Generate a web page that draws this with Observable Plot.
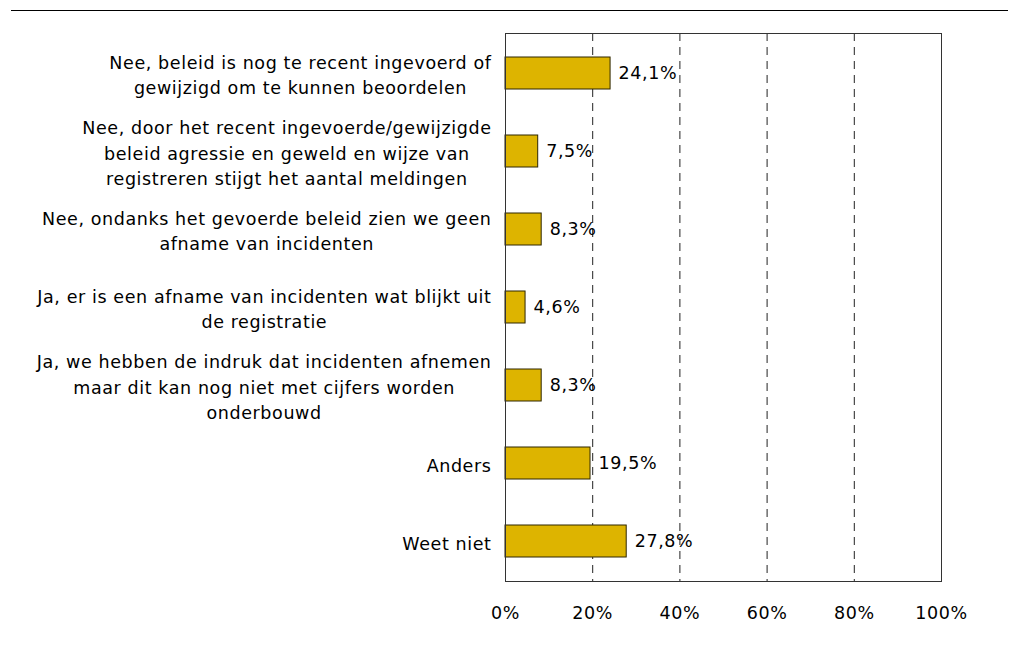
<!DOCTYPE html>
<html><head><meta charset="utf-8">
<script src="https://cdn.jsdelivr.net/npm/d3@7"></script>
<script src="https://cdn.jsdelivr.net/npm/@observablehq/plot@0.6"></script>
<style>
body{margin:0;background:#fff;}
#wrap{position:relative;width:1011px;height:648px;}
#topline{position:absolute;left:11px;top:10px;width:997px;height:1px;background:#000;}
svg{font-family:"DejaVu Sans",Verdana,sans-serif;}
svg text{letter-spacing:0.6px;}
</style></head>
<body><div id="wrap"><div id="topline"></div><div id="chart"></div></div>
<script>
const categories = [
  "Nee, beleid is nog te recent ingevoerd of\ngewijzigd om te kunnen beoordelen",
  "Nee, door het recent ingevoerde/gewijzigde\nbeleid agressie en geweld en wijze van\nregistreren stijgt het aantal meldingen",
  "Nee, ondanks het gevoerde beleid zien we geen\nafname van incidenten",
  "Ja, er is een afname van incidenten wat blijkt uit\nde registratie",
  "Ja, we hebben de indruk dat incidenten afnemen\nmaar dit kan nog niet met cijfers worden\nonderbouwd",
  "Anders",
  "Weet niet"
];
const values = [24.1, 7.5, 8.3, 4.6, 8.3, 19.5, 27.8];
const xTicks = [0, 20, 40, 60, 80, 100];
const gridTicks = [20, 40, 60, 80];

const data = categories.map((c, i) => ({cat: c, value: values[i]}));
const fmt = v => v.toFixed(1).replace(".", ",") + "%";

const FONT = 17.5;
const LS = 0.6;
const ctx = document.createElement("canvas").getContext("2d");
ctx.font = `${FONT}px "DejaVu Sans"`;
const widest = c => Math.max(...c.split("\n").map(l => ctx.measureText(l).width + LS * l.length));

const labelMarks = data.map(d => Plot.text([d], {
  x: () => 0, y: "cat", text: "cat",
  textAnchor: "middle", lineAnchor: "middle", lineHeight: 1.43,
  dx: -(14 + widest(d.cat) / 2), fill: "#000", fontSize: FONT
}));

const chart = Plot.plot({
  width: 1011, height: 648,
  marginLeft: 505, marginRight: 70, marginTop: 33, marginBottom: 67,
  style: {fontFamily: '"DejaVu Sans", Verdana, sans-serif', fontSize: FONT + "px", color: "#000", background: "#fff"},
  x: {domain: [0, 100], ticks: xTicks, tickFormat: d => d + "%", tickSize: 0, tickPadding: 25, label: null},
  y: {domain: categories, paddingInner: 0.59, paddingOuter: 0.295, axis: null},
  marks: [
    Plot.ruleX(gridTicks, {stroke: "#222", strokeDasharray: "8,6", strokeWidth: 1}),
    Plot.barX(data, {x: "value", y: "cat", fill: "#DDB400", stroke: "#2e2600", strokeWidth: 1}),
    Plot.text(data, {x: "value", y: "cat", text: d => fmt(d.value), textAnchor: "start", dx: 8, fill: "#000", fontSize: FONT}),
    ...labelMarks,
    Plot.frame({stroke: "#333", strokeWidth: 1})
  ]
});
document.getElementById("chart").appendChild(chart);
</script></body></html>
